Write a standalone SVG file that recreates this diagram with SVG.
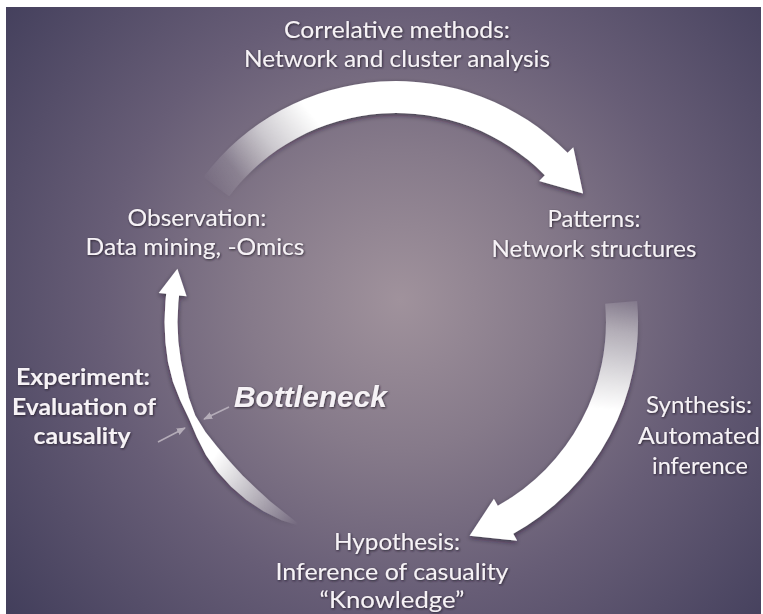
<svg xmlns="http://www.w3.org/2000/svg" width="763" height="614" viewBox="0 0 763 614">
  <defs>
    <radialGradient id="bg" gradientUnits="userSpaceOnUse" cx="400" cy="300" r="500">
      <stop offset="0" stop-color="#a0929c"/>
      <stop offset="0.3" stop-color="#867a8a"/>
      <stop offset="0.6" stop-color="#675d76"/>
      <stop offset="1" stop-color="#433f5c"/>
    </radialGradient>
    <linearGradient id="fadeTop" gradientUnits="userSpaceOnUse" x1="212" y1="192" x2="310" y2="112">
      <stop offset="0" stop-color="#fff" stop-opacity="0"/>
      <stop offset="0.25" stop-color="#fff" stop-opacity="0.12"/>
      <stop offset="0.6" stop-color="#fff" stop-opacity="0.6"/>
      <stop offset="1" stop-color="#fff" stop-opacity="1"/>
    </linearGradient>
    <linearGradient id="fadeRight" gradientUnits="userSpaceOnUse" x1="622" y1="298" x2="612" y2="410">
      <stop offset="0" stop-color="#fff" stop-opacity="0.08"/>
      <stop offset="0.3" stop-color="#fff" stop-opacity="0.42"/>
      <stop offset="1" stop-color="#fff" stop-opacity="1"/>
    </linearGradient>
    <linearGradient id="fadeLeft" gradientUnits="userSpaceOnUse" x1="300" y1="522" x2="215" y2="455">
      <stop offset="0" stop-color="#fff" stop-opacity="0"/>
      <stop offset="0.55" stop-color="#fff" stop-opacity="0.55"/>
      <stop offset="1" stop-color="#fff" stop-opacity="1"/>
    </linearGradient>
    <filter id="arrowShadow" x="-20%" y="-20%" width="140%" height="140%">
      <feDropShadow dx="0" dy="2" stdDeviation="2.5" flood-color="#1e1828" flood-opacity="0.6"/>
    </filter>
    <filter id="textShadow" x="-10%" y="-30%" width="120%" height="160%">
      <feDropShadow dx="0.8" dy="1" stdDeviation="1.2" flood-color="#1b1426" flood-opacity="0.85"/>
    </filter>
    <marker id="tick" viewBox="0 0 10 10" refX="9" refY="5" markerWidth="6" markerHeight="6" orient="auto">
      <path d="M0,1 L10,5 L0,9 Z" fill="#b4acb8"/>
    </marker>
    <style>
      .lbl { font-family: Lato, "Open Sans", "Liberation Sans", sans-serif; font-size: 23px; fill: #f6f2f6; text-anchor: middle; filter: url(#textShadow); }
      .bold { font-weight: bold; }
      .key { font-family: "Liberation Sans", Arial, sans-serif; font-size: 30px; font-weight: bold; font-style: italic; fill: #f6f2f6; filter: url(#textShadow); }
      .pointer { stroke: #b4acb8; stroke-width: 1.5; fill: none; marker-end: url(#tick); }
    </style>
  </defs>

  <!-- frame and backdrop -->
  <rect x="0" y="0" width="763" height="614" fill="#ffffff"/>
  <rect x="6" y="7" width="755" height="607" fill="url(#bg)"/>

  <!-- cycle arrows -->
  <g id="connectors">
    <path id="arrow-top" filter="url(#arrowShadow)" fill="url(#fadeTop)"
          d="M203.5,177 A241,241 0 0 1 567.6,152.8 L573.3,147.2 L583.1,193.4 L539.1,180.9 L544.8,175.2 A209,209 0 0 0 229.1,196.2 Z"/>
    <path id="arrow-right" filter="url(#arrowShadow)" fill="url(#fadeRight)"
          d="M637.1,300.9 A242,242 0 0 1 513.3,533.7 L517.2,540.7 L469.6,535.7 L493.9,498.7 L497.8,505.7 A210,210 0 0 0 605.2,303.7 Z"/>
    <path id="arrow-left" filter="url(#arrowShadow)" fill="url(#fadeLeft)"
          d="M296.9,525.1 L281.5,520.3 L263.5,511.2 L246.5,500.1 L231.2,486.8 L217.5,471.8 L205.9,455.1 L196.8,437 L188.9,418.6 L180.3,400.5 L172.9,381.8 L168,362.2 L165.4,342.2 L164.5,322 L165.4,301.8 L166.2,293.8 L158.8,292.9 L177.4,268.7 L186.6,296.3 L179.1,295.4 L178.3,302.9 L177.5,322 L178.3,341.1 L180.8,359.9 L184.5,378.7 L188.8,397.4 L195.3,415.6 L205.5,432 L217.4,447 L229.8,461.5 L242.6,475.4 L256.2,488.6 L270.4,501.4 L285.5,513.4 L297.8,523.3 Z"/>
    <line class="pointer" x1="229" y1="407" x2="204" y2="419"/>
    <line class="pointer" x1="158" y1="442" x2="185" y2="428"/>
  </g>

  <g id="correlative">
    <text class="lbl" x="397" y="38" textLength="226" lengthAdjust="spacingAndGlyphs">Correlative methods:</text>
    <text class="lbl" x="397" y="67" textLength="306" lengthAdjust="spacingAndGlyphs">Network and cluster analysis</text>
  </g>
  <g id="observation">
    <text class="lbl" x="197" y="226" textLength="139" lengthAdjust="spacingAndGlyphs">Observation:</text>
    <text class="lbl" x="195" y="255" textLength="219" lengthAdjust="spacingAndGlyphs">Data mining, -Omics</text>
  </g>
  <g id="patterns">
    <text class="lbl" x="594" y="227" textLength="93" lengthAdjust="spacingAndGlyphs">Patterns:</text>
    <text class="lbl" x="594" y="257" textLength="205" lengthAdjust="spacingAndGlyphs">Network structures</text>
  </g>
  <g id="synthesis">
    <text class="lbl" x="699" y="413" textLength="106" lengthAdjust="spacingAndGlyphs">Synthesis:</text>
    <text class="lbl" x="699" y="444" textLength="122" lengthAdjust="spacingAndGlyphs">Automated</text>
    <text class="lbl" x="700" y="474" textLength="96" lengthAdjust="spacingAndGlyphs">inference</text>
  </g>
  <g id="hypothesis">
    <text class="lbl" x="397" y="550" textLength="126" lengthAdjust="spacingAndGlyphs">Hypothesis:</text>
    <text class="lbl" x="392" y="580" textLength="233" lengthAdjust="spacingAndGlyphs">Inference of casuality</text>
    <text class="lbl" x="392" y="608" textLength="145" lengthAdjust="spacingAndGlyphs">“Knowledge”</text>
  </g>
  <g id="experiment">
    <text class="lbl bold" x="83" y="385" textLength="134" lengthAdjust="spacingAndGlyphs">Experiment:</text>
    <text class="lbl bold" x="84" y="415" textLength="144" lengthAdjust="spacingAndGlyphs">Evaluation of</text>
    <text class="lbl bold" x="82" y="444" textLength="97" lengthAdjust="spacingAndGlyphs">causality</text>
  </g>
  <g id="bottleneck">
    <text class="key" x="234" y="407" textLength="153" lengthAdjust="spacingAndGlyphs">Bottleneck</text>
  </g>
</svg>
